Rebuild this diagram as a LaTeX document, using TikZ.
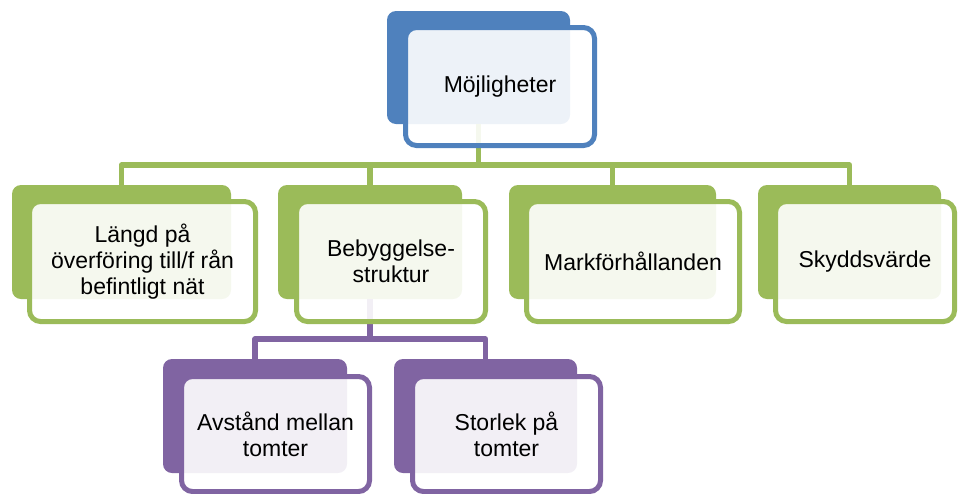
\documentclass[tikz,border=0pt]{standalone}
\usepackage{fontspec}
\setmainfont{Liberation Sans}
\definecolor{cblue}{HTML}{4F81BD}
\definecolor{cgreen}{HTML}{9BBB59}
\definecolor{cpurple}{HTML}{8064A2}
\begin{document}
\begin{tikzpicture}[x=1pt,y=-1pt,
  backbox/.style={fill=#1, draw=none, rounded corners=9pt, inner sep=0pt, outer sep=0pt},
  frontbox/.style={draw=#1, line width=5pt, fill=white, fill opacity=0.9, text opacity=1,
    rounded corners=11pt, inner sep=0pt, outer sep=0pt, align=center,
    font=\fontsize{23}{26}\selectfont},
  conn/.style={draw=#1, line width=5.5pt, line join=round}]
\useasboundingbox (0,0) rectangle (958,493);
% back boxes
\node[backbox=cblue, minimum width=183pt, minimum height=113pt] (bT) at (478.5,67.5) {};
\node[backbox=cgreen, minimum width=219pt, minimum height=114pt] (bL) at (121.5,242) {};
\node[backbox=cgreen, minimum width=184pt, minimum height=114pt] (bB) at (370,242) {};
\node[backbox=cgreen, minimum width=207pt, minimum height=114pt] (bM) at (612.5,242) {};
\node[backbox=cgreen, minimum width=183pt, minimum height=114pt] (bS) at (849.5,242) {};
\node[backbox=cpurple, minimum width=184pt, minimum height=114pt] (bA) at (255,416) {};
\node[backbox=cpurple, minimum width=183pt, minimum height=114pt] (bZ) at (485.5,416) {};
% connectors
\coordinate (gbar) at (0,165);
\coordinate (pbar) at (0,339);
\draw[conn=cgreen] (bL.north) |- (gbar -| bS.north) -- (bS.north);
\draw[conn=cgreen] (bT.south) -- (bT.south |- gbar);
\draw[conn=cgreen] (bB.north) -- (bB.north |- gbar);
\draw[conn=cgreen] (bM.north) -- (bM.north |- gbar);
\draw[conn=cpurple] (bA.north) |- (pbar -| bZ.north) -- (bZ.north);
\draw[conn=cpurple] (bB.south) -- (bB.south |- pbar);
% front boxes
\node[frontbox=cblue, minimum width=189pt, minimum height=118pt] (fT) at (500,86.5) {Möjligheter};
\node[frontbox=cgreen, minimum width=226pt, minimum height=120pt] (fL) at (142.5,261.5) {Längd på\\överföring till/f rån\\befintligt nät};
\node[frontbox=cgreen, minimum width=189pt, minimum height=120pt] (fB) at (391,261.5) {Bebyggelse-\\struktur};
\node[frontbox=cgreen, minimum width=213pt, minimum height=120pt] (fM) at (633,261.5) {Markförhållanden};
\node[frontbox=cgreen, minimum width=179pt, minimum height=120pt] (fS) at (865,261.5) {Skyddsvärde};
\node[frontbox=cpurple, minimum width=188pt, minimum height=115pt] (fA) at (275.5,434) {Avstånd mellan\\tomter};
\node[frontbox=cpurple, minimum width=188pt, minimum height=115pt] (fZ) at (506.5,434) {Storlek på\\tomter};
\end{tikzpicture}
\end{document}
